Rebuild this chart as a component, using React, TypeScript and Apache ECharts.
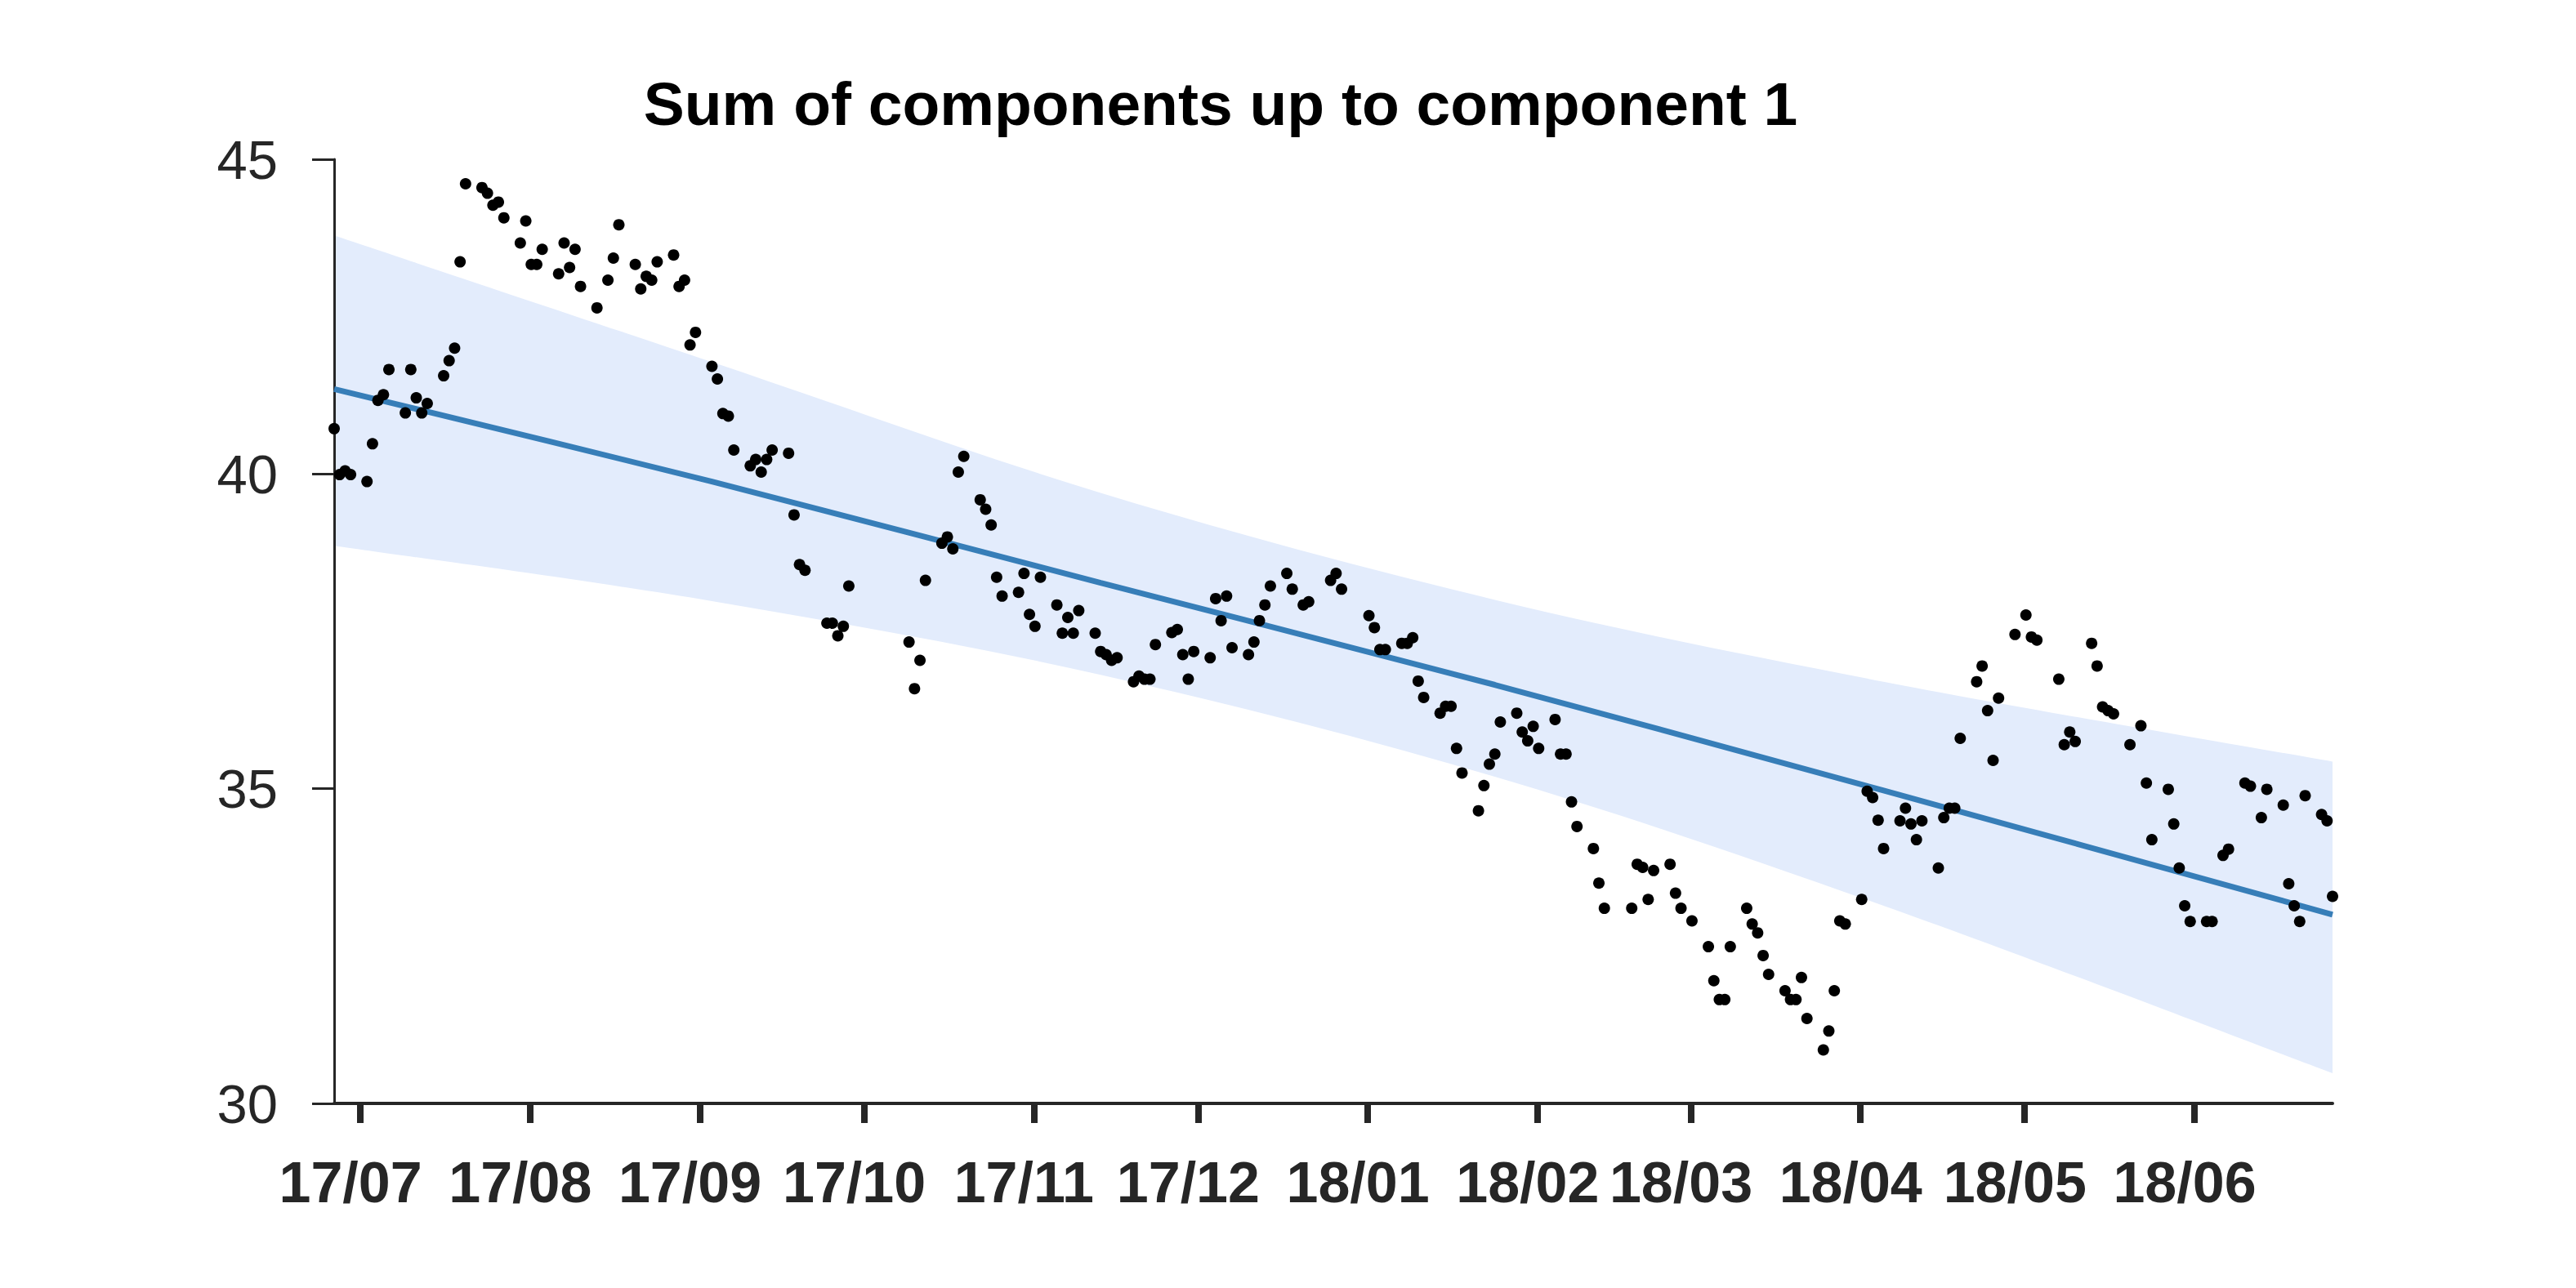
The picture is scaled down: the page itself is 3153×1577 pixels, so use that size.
import React, { useEffect, useRef } from "react";
import * as echarts from "echarts";

// ---------------- data ----------------
const dotDates = [
  "2017-06-27","2017-06-28","2017-06-29","2017-06-30",
  "2017-07-03","2017-07-04","2017-07-05","2017-07-06","2017-07-07",
  "2017-07-10","2017-07-11","2017-07-12","2017-07-13","2017-07-14",
  "2017-07-17","2017-07-18","2017-07-19","2017-07-20","2017-07-21",
  "2017-07-24","2017-07-25","2017-07-26","2017-07-27","2017-07-28",
  "2017-07-31","2017-08-01","2017-08-02","2017-08-03","2017-08-04",
  "2017-08-07","2017-08-08","2017-08-09","2017-08-10","2017-08-11",
  "2017-08-14","2017-08-16","2017-08-17","2017-08-18",
  "2017-08-21","2017-08-22","2017-08-23","2017-08-24","2017-08-25",
  "2017-08-28","2017-08-29","2017-08-30","2017-08-31","2017-09-01",
  "2017-09-04","2017-09-05","2017-09-06","2017-09-07","2017-09-08",
  "2017-09-11","2017-09-12","2017-09-13","2017-09-14","2017-09-15",
  "2017-09-18","2017-09-19","2017-09-20","2017-09-21",
  "2017-09-25","2017-09-26","2017-09-27","2017-09-28","2017-09-29",
  "2017-10-10","2017-10-11","2017-10-12","2017-10-13",
  "2017-10-16","2017-10-17","2017-10-18","2017-10-19","2017-10-20",
  "2017-10-23","2017-10-24","2017-10-25","2017-10-26","2017-10-27",
  "2017-10-30","2017-10-31","2017-11-01","2017-11-02","2017-11-03",
  "2017-11-06","2017-11-07","2017-11-08","2017-11-09","2017-11-10",
  "2017-11-13","2017-11-14","2017-11-15","2017-11-16","2017-11-17",
  "2017-11-20","2017-11-21","2017-11-22","2017-11-23","2017-11-24",
  "2017-11-27","2017-11-28","2017-11-29","2017-11-30","2017-12-01",
  "2017-12-04","2017-12-05","2017-12-06","2017-12-07","2017-12-08",
  "2017-12-11","2017-12-12","2017-12-13","2017-12-14","2017-12-15",
  "2017-12-18","2017-12-19","2017-12-21","2017-12-22",
  "2017-12-26","2017-12-27","2017-12-28",
  "2018-01-02","2018-01-03","2018-01-04","2018-01-05",
  "2018-01-08","2018-01-09","2018-01-10","2018-01-11","2018-01-12",
  "2018-01-15","2018-01-16","2018-01-17","2018-01-18","2018-01-19",
  "2018-01-22","2018-01-23","2018-01-24","2018-01-25","2018-01-26",
  "2018-01-29","2018-01-30","2018-01-31","2018-02-01","2018-02-02",
  "2018-02-05","2018-02-06","2018-02-07","2018-02-08","2018-02-09",
  "2018-02-12","2018-02-13","2018-02-14",
  "2018-02-19","2018-02-20","2018-02-21","2018-02-22","2018-02-23",
  "2018-02-26","2018-02-27","2018-02-28","2018-03-02",
  "2018-03-05","2018-03-06","2018-03-07","2018-03-08","2018-03-09",
  "2018-03-12","2018-03-13","2018-03-14","2018-03-15","2018-03-16",
  "2018-03-19","2018-03-20","2018-03-21","2018-03-22","2018-03-23",
  "2018-03-26","2018-03-27","2018-03-28","2018-03-29","2018-03-30",
  "2018-04-02","2018-04-03","2018-04-04","2018-04-05","2018-04-06",
  "2018-04-09","2018-04-10","2018-04-11","2018-04-12","2018-04-13",
  "2018-04-16","2018-04-17","2018-04-18","2018-04-19","2018-04-20",
  "2018-04-23","2018-04-24","2018-04-25","2018-04-26","2018-04-27",
  "2018-04-30","2018-05-02","2018-05-03","2018-05-04",
  "2018-05-08","2018-05-09","2018-05-10","2018-05-11",
  "2018-05-14","2018-05-15","2018-05-16","2018-05-17","2018-05-18",
  "2018-05-21","2018-05-23","2018-05-24","2018-05-25",
  "2018-05-28","2018-05-29","2018-05-30","2018-05-31","2018-06-01",
  "2018-06-04","2018-06-05","2018-06-07","2018-06-08",
  "2018-06-11","2018-06-12","2018-06-14","2018-06-15",
  "2018-06-18","2018-06-19","2018-06-20","2018-06-21","2018-06-22",
  "2018-06-25","2018-06-26","2018-06-27",
];

const dotValues = [
  40.72, 39.99, 40.05, 39.99,
  39.88, 40.48, 41.17, 41.26, 41.66,
  40.97, 41.66, 41.21, 40.97, 41.12,
  41.56, 41.80, 42.00, 43.37, 44.61,
  44.55, 44.46, 44.27, 44.32, 44.07,
  43.67, 44.02, 43.33, 43.33, 43.57,
  43.18, 43.67, 43.28, 43.57, 42.98,
  42.64, 43.08, 43.43, 43.96,
  43.33, 42.94, 43.14, 43.08, 43.37,
  43.48, 42.98, 43.08, 42.05, 42.25,
  41.71, 41.51, 40.96, 40.92, 40.38,
  40.13, 40.23, 40.03, 40.23, 40.38,
  40.33, 39.35, 38.56, 38.47,
  37.63, 37.63, 37.43, 37.58, 38.22,
  37.33, 36.59, 37.04, 38.31,
  38.90, 39.00, 38.81, 40.03, 40.28,
  39.59, 39.44, 39.19, 38.36, 38.06,
  38.12, 38.42, 37.77, 37.58, 38.36,
  37.92, 37.47, 37.72, 37.47, 37.83,
  37.47, 37.18, 37.13, 37.04, 37.08,
  36.70, 36.79, 36.74, 36.74, 37.29,
  37.48, 37.53, 37.13, 36.74, 37.18,
  37.08, 38.02, 37.67, 38.06, 37.24,
  37.13, 37.33, 37.67, 37.92, 38.22,
  38.42, 38.17, 37.92, 37.97,
  38.31, 38.42, 38.17,
  37.75, 37.56, 37.21, 37.21,
  37.31, 37.31, 37.40, 36.71, 36.45,
  36.20, 36.31, 36.31, 35.64, 35.25,
  34.65, 35.05, 35.39, 35.55, 36.06,
  36.20, 35.90, 35.76, 35.99, 35.64,
  36.10, 35.55, 35.55, 34.79, 34.40,
  34.05, 33.50, 33.10,
  33.10, 33.80, 33.75, 33.24, 33.70,
  33.80, 33.34, 33.10, 32.90,
  32.49, 31.95, 31.65, 31.65, 32.49,
  33.10, 32.85, 32.71, 32.35, 32.05,
  31.79, 31.65, 31.65, 32.00, 31.35,
  30.85, 31.15, 31.79, 32.90, 32.85,
  33.24, 34.96, 34.86, 34.50, 34.05,
  34.49, 34.69, 34.44, 34.19, 34.49,
  33.74, 34.54, 34.69, 34.69, 35.80,
  36.70, 36.95, 36.24, 35.45, 36.44,
  37.45, 37.76, 37.41, 37.36,
  36.74, 35.70, 35.90, 35.75,
  37.31, 36.95, 36.30, 36.24, 36.19,
  35.70, 36.00, 35.09, 34.19,
  34.99, 34.44, 33.74, 33.14, 32.89,
  32.89, 32.89, 33.94, 34.04,
  35.09, 35.04, 34.54, 34.99,
  34.74, 33.49, 33.14, 32.89, 34.89,
  34.59, 34.49, 33.29,
];

// fitted trend and its band, read at a few dates
const fitDates = ["2017-06-27", "2017-09-04", "2017-11-14", "2018-01-25", "2018-04-06", "2018-06-27"];
const trendValues = [41.35, 39.88, 38.27, 36.65, 34.97, 33.0];
const bandUpper = [43.79, 41.78, 39.7, 38.0, 36.7, 35.43];
const bandLower = [38.86, 37.98, 36.81, 35.19, 33.14, 30.48];

const monthTicks = [
  "2017-07-01", "2017-08-01", "2017-09-01", "2017-10-01", "2017-11-01", "2017-12-01",
  "2018-01-01", "2018-02-01", "2018-03-01", "2018-04-01", "2018-05-01", "2018-06-01",
];
const yTicks = { min: 30, max: 45, interval: 5 };
const titleText = "Sum of components up to component 1";

// ---------------- styling ----------------
const DAY = 86400000;
const DATE_SHIFT = -0.78 * DAY; // sample timestamps sit slightly before the month-start ticks
const AXIS_COLOR = "#262626";
const BAND_COLOR = "#e3ecfc";
const LINE_COLOR = "#377eb8";
const FONT = "'Liberation Sans', Arial, Helvetica, sans-serif";

const toTs = (d: string) => Date.parse(d) + DATE_SHIFT;

// Catmull-Rom spline through pixel points, as SVG path commands (without the initial M)
function splineSegments(pts: number[][]): string {
  let s = "";
  const n = pts.length;
  for (let i = 0; i < n - 1; i++) {
    const p0 = pts[Math.max(0, i - 1)];
    const p1 = pts[i];
    const p2 = pts[i + 1];
    const p3 = pts[Math.min(n - 1, i + 2)];
    const c1x = p1[0] + (p2[0] - p0[0]) / 6;
    const c1y = p1[1] + (p2[1] - p0[1]) / 6;
    const c2x = p2[0] - (p3[0] - p1[0]) / 6;
    const c2y = p2[1] - (p3[1] - p1[1]) / 6;
    s += ` C${c1x},${c1y} ${c2x},${c2y} ${p2[0]},${p2[1]}`;
  }
  return s;
}

export default function App() {
  const ref = useRef<HTMLDivElement>(null);

  useEffect(() => {
    if (!ref.current) return;
    const chart = echarts.init(ref.current, undefined, { renderer: "svg" });

    const dots = dotDates.map((d, i) => [toTs(d), dotValues[i]]);
    const trend = fitDates.map((d, i) => [toTs(d), trendValues[i]]);
    const xMin = toTs(dotDates[0]);
    const xMax = toTs(dotDates[dotDates.length - 1]);
    const tickTs = monthTicks.map((d) => Date.parse(d));

    chart.setOption({
      animation: false,
      backgroundColor: "#ffffff",
      graphic: [
        {
          type: "text",
          x: 1494,
          y: 127,
          style: {
            text: titleText,
            fill: "#000000",
            font: `bold 75px ${FONT}`,
            textAlign: "center",
            textVerticalAlign: "middle",
            verticalAlign: "middle",
          },
        },
      ],
      grid: { left: 409, right: 298, top: 195, bottom: 226, containLabel: false },
      xAxis: {
        type: "value",
        min: xMin,
        max: xMax,
        scale: true,
        z: 1,
        axisLine: { show: true, lineStyle: { color: AXIS_COLOR, width: 4 } },
        axisTick: {
          show: true,
          customValues: tickTs,
          length: 24,
          inside: false,
          lineStyle: { color: AXIS_COLOR, width: 8 },
        },
        axisLabel: {
          show: true,
          customValues: tickTs,
          formatter: (v: number) => {
            const dt = new Date(v);
            const yy = String(dt.getUTCFullYear()).slice(2);
            const mm = String(dt.getUTCMonth() + 1).padStart(2, "0");
            return `${yy}/${mm}`;
          },
          color: AXIS_COLOR,
          fontFamily: FONT,
          fontWeight: "bold",
          fontSize: 70,
          margin: 62,
          padding: [0, 24, 0, 0],
        },
        splitLine: { show: false },
      },
      yAxis: {
        type: "value",
        min: yTicks.min,
        max: yTicks.max,
        interval: yTicks.interval,
        z: 1,
        axisLine: { show: true, lineStyle: { color: AXIS_COLOR, width: 3 } },
        axisTick: { show: true, length: 27, inside: false, lineStyle: { color: AXIS_COLOR, width: 3 } },
        axisLabel: {
          color: AXIS_COLOR,
          fontFamily: FONT,
          fontSize: 67,
          margin: 69,
        },
        splitLine: { show: false },
      },
      series: [
        {
          type: "custom",
          name: "band",
          silent: true,
          z: 0,
          data: [[toTs(fitDates[0]), bandUpper[0]]],
          renderItem: (params: any, api: any) => {
            if (params.dataIndex !== 0) return null;
            const up = fitDates.map((d, i) => api.coord([toTs(d), bandUpper[i]]));
            const lo = fitDates.map((d, i) => api.coord([toTs(d), bandLower[i]])).reverse();
            const d =
              `M${up[0][0]},${up[0][1]}` +
              splineSegments(up) +
              ` L${lo[0][0]},${lo[0][1]}` +
              splineSegments(lo) +
              " Z";
            return {
              type: "path",
              shape: { pathData: d },
              style: { fill: BAND_COLOR, stroke: "none" },
            };
          },
        },
        {
          type: "line",
          name: "trend",
          data: trend,
          smooth: 0.3,
          symbol: "none",
          z: 2,
          lineStyle: { color: LINE_COLOR, width: 7 },
        },
        {
          type: "scatter",
          name: "sum",
          data: dots,
          symbol: "circle",
          symbolSize: 14,
          clip: false,
          z: 3,
          itemStyle: { color: "#000000", opacity: 1 },
        },
      ],
    });

    return () => chart.dispose();
  }, []);

  return (
    <div
      ref={ref}
      style={{ position: "fixed", left: 0, top: 0, width: 3153, height: 1577, background: "#ffffff" }}
    />
  );
}
